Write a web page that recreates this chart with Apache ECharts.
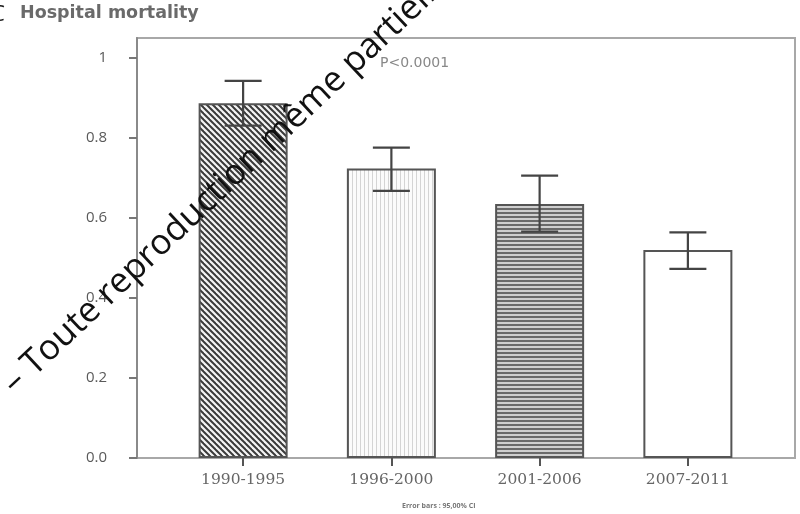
<!DOCTYPE html>
<html>
<head>
<meta charset="utf-8">
<script src="https://cdn.jsdelivr.net/npm/echarts@6/dist/echarts.min.js"></script>
<style>html,body{margin:0;padding:0;background:#fff}#c{width:800px;height:514px}</style>
</head>
<body>
<div id="c"></div>
<script>
// ---- data ----
var categories = ['1990-1995', '1996-2000', '2001-2006', '2007-2011'];
var mortality = [0.887, 0.724, 0.635, 0.520];
var ciLower = [0.831, 0.668, 0.566, 0.473];
var ciUpper = [0.943, 0.776, 0.706, 0.564];
var yTicks = [0, 0.2, 0.4, 0.6, 0.8, 1];

// ---- patterns ----
function tile(w, h, draw) {
  var c = document.createElement('canvas');
  c.width = w; c.height = h;
  var g = c.getContext('2d');
  draw(g, w, h);
  return { image: c, repeat: 'repeat' };
}
var patDiag = tile(6, 6, function (g, w, h) {
  g.fillStyle = '#f4f4f4'; g.fillRect(0, 0, w, h);
  g.strokeStyle = '#3a3a3a'; g.lineWidth = 2;
  for (var k = -1; k <= 1; k++) {
    g.beginPath(); g.moveTo(k * w - 1, -1); g.lineTo(k * w + w + 1, h + 1); g.stroke();
  }
});
var patVert = tile(4, 4, function (g, w, h) {
  g.fillStyle = '#fbfbfb'; g.fillRect(0, 0, w, h);
  g.fillStyle = '#d4d4d4'; g.fillRect(0, 0, 1, h);
});
var patHorz = tile(4, 4, function (g, w, h) {
  g.fillStyle = '#cfcfcf'; g.fillRect(0, 0, w, h);
  g.fillStyle = '#6a6a6a'; g.fillRect(0, 0, w, 2);
});
var barFills = [patDiag, patVert, patHorz, '#ffffff'];

var chart = echarts.init(document.getElementById('c'), null, { renderer: 'canvas' });

var option = {
  animation: false,
  backgroundColor: '#fff',
  grid: [
    { left: 137, right: 5, top: 38, bottom: 56, show: true, borderColor: '#a8a8a8', borderWidth: 2, backgroundColor: 'transparent' },
    { left: 169, right: 38, top: 38, bottom: 56 }
  ],
  xAxis: [
    { gridIndex: 0, type: 'value', show: false, min: 0, max: 1 },
    {
      gridIndex: 1, type: 'category', data: categories,
      axisLine: { show: false },
      axisTick: { show: true, alignWithLabel: true, length: 8, lineStyle: { color: '#555', width: 2 } },
      axisLabel: { margin: 14, color: '#666', fontFamily: 'DejaVu Serif', fontSize: 15.5 }
    }
  ],
  yAxis: [
    {
      gridIndex: 0, type: 'value', min: 0, max: 1.05,
      splitLine: { show: false },
      axisLine: { show: true, lineStyle: { color: '#8a8a8a', width: 2 } },
      axisTick: { show: true, length: 8, customValues: yTicks, lineStyle: { color: '#777', width: 2 } },
      axisLabel: {
        margin: 30, color: '#5a5a5a', fontFamily: 'Open Sans', fontSize: 15, customValues: yTicks,
        formatter: function (v) { return v === 0 ? '0.0' : (v === 1 ? '1' : v.toFixed(1)); }
      }
    },
    { gridIndex: 1, type: 'value', min: 0, max: 1.05, show: false, splitLine: { show: false } }
  ],
  series: [
    {
      type: 'bar', xAxisIndex: 1, yAxisIndex: 1, barWidth: 89,
      data: mortality.map(function (v, i) {
        return { value: v, itemStyle: { color: barFills[i] } };
      }),
      itemStyle: { borderColor: '#555', borderWidth: 2 },
      z: 2
    },
    {
      type: 'custom', xAxisIndex: 1, yAxisIndex: 1, z: 5,
      data: categories.map(function (c, i) { return [i, ciLower[i], ciUpper[i]]; }),
      renderItem: function (params, api) {
        var lo = api.coord([api.value(0), api.value(1)]);
        var hi = api.coord([api.value(0), api.value(2)]);
        var hw = 18.5;
        var st = { stroke: '#444', lineWidth: 2.2 };
        return {
          type: 'group',
          children: [
            { type: 'line', shape: { x1: hi[0], y1: hi[1], x2: lo[0], y2: lo[1] }, style: st },
            { type: 'line', shape: { x1: hi[0] - hw, y1: hi[1], x2: hi[0] + hw, y2: hi[1] }, style: st },
            { type: 'line', shape: { x1: lo[0] - hw, y1: lo[1], x2: lo[0] + hw, y2: lo[1] }, style: st }
          ]
        };
      }
    }
  ],
  graphic: [
    { type: 'text', left: 20, top: 4, style: { text: 'Hospital mortality', fill: '#6a6a6a', font: 'bold 17.5px "DejaVu Sans"' } },
    { type: 'text', left: 380, top: 56, style: { text: 'P<0.0001', fill: '#888', font: '14px "DejaVu Sans"' } },
    { type: 'text', left: 402, top: 502, style: { text: 'Error bars : 95,00% CI', fill: '#777', font: 'bold 7px "Open Sans"' } },
    { type: 'text', x: -9, y: 4, z: 100, style: { text: 'C', fill: '#111', font: '22px "Open Sans"' } },
    {
      type: 'text', x: 8, y: 388, rotation: 43.3 * Math.PI / 180, z: 100,
      style: { text: '– Toute reproduction même partielle', fill: '#111', font: '35px "Open Sans"', textVerticalAlign: 'middle', textAlign: 'left' }
    }
  ]
};
chart.setOption(option);
</script>
</body>
</html>
